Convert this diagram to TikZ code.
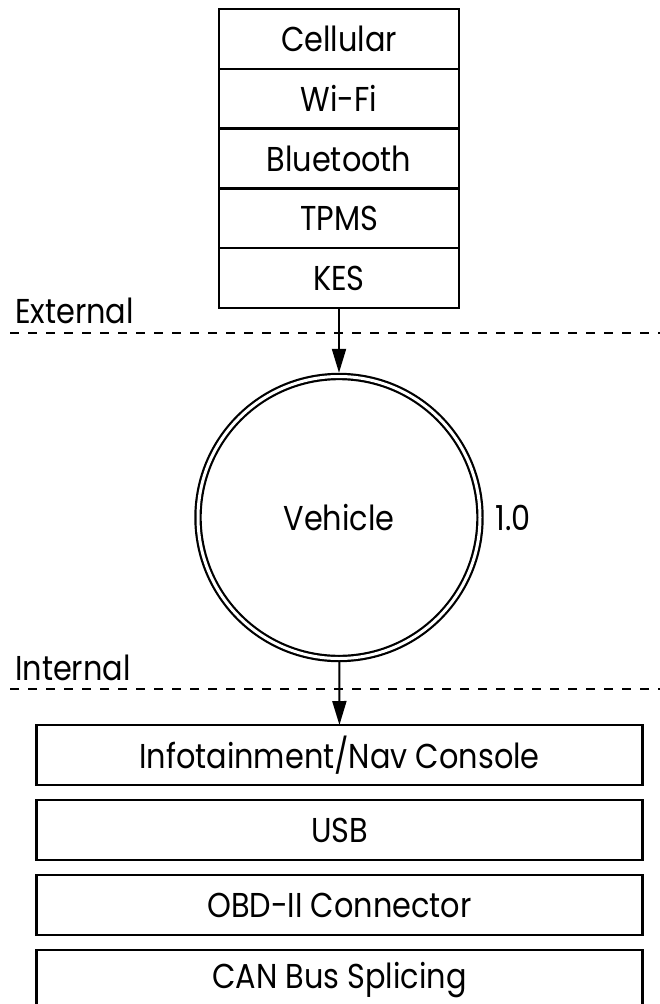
\documentclass[tikz,border=0pt]{standalone}
\usepackage{fontspec}
\setmainfont{Poppins}[FakeStretch=0.88]
\usetikzlibrary{positioning,arrows.meta}

\begin{document}
\begin{tikzpicture}[x=1pt,y=-1pt,
        cell/.style={draw,line width=2.5pt,minimum width=240pt,minimum height=59.8pt,
            outer sep=0pt,inner sep=0pt,font=\fontsize{34.5}{40}\selectfont},
        entry/.style={draw,line width=2.5pt,minimum width=606pt,minimum height=60pt,
            outer sep=0pt,inner sep=0pt,font=\fontsize{34.5}{40}\selectfont},
        flow/.style={-{Triangle[length=24pt,width=14pt]},line width=2pt},
        zone/.style={dash pattern=on 9pt off 9pt,line width=2pt},
        tag/.style={anchor=base west,inner sep=0pt,font=\fontsize{34.5}{40}\selectfont}]
        \useasboundingbox (0,0) rectangle (660,1004);
        \clip (0,0) rectangle (660,1004);

        % external interfaces
        \node[cell] (cell) at (339,38.9) {Cellular};
        \node[cell,below=0pt of cell] (wifi) {Wi-Fi};
        \node[cell,below=0pt of wifi] (bt) {Bluetooth};
        \node[cell,below=0pt of bt] (tpms) {TPMS};
        \node[cell,below=0pt of tpms] (kes) {KES};

        \node[tag] (ext) at (15,323) {External};
        \draw[zone] (10,333) -- (660,333);

        % the vehicle process
        \node[circle,draw,double,double distance=3pt,line width=2.2pt,minimum size=282pt,
            outer sep=3.7pt,font=\fontsize{34.5}{40}\selectfont] (vehicle) at (339,517.5) {Vehicle};
        \node[right=12pt of vehicle,inner sep=0pt,font=\fontsize{34.5}{40}\selectfont] (num) {1.0};

        \node[tag] (int) at (15,680) {Internal};
        \draw[zone] (10,689) -- (660,689);

        % internal interfaces
        \node[entry] (info) at (339.5,755) {Infotainment/Nav Console};
        \node[entry,below=15pt of info] (usb) {USB};
        \node[entry,below=15pt of usb] (obd) {OBD-II Connector};
        \node[entry,below=15pt of obd] (can) {CAN Bus Splicing};

        \draw[flow] (kes) -- (vehicle);
        \draw[flow] (vehicle) -- (info);
    \end{tikzpicture}
\end{document}
